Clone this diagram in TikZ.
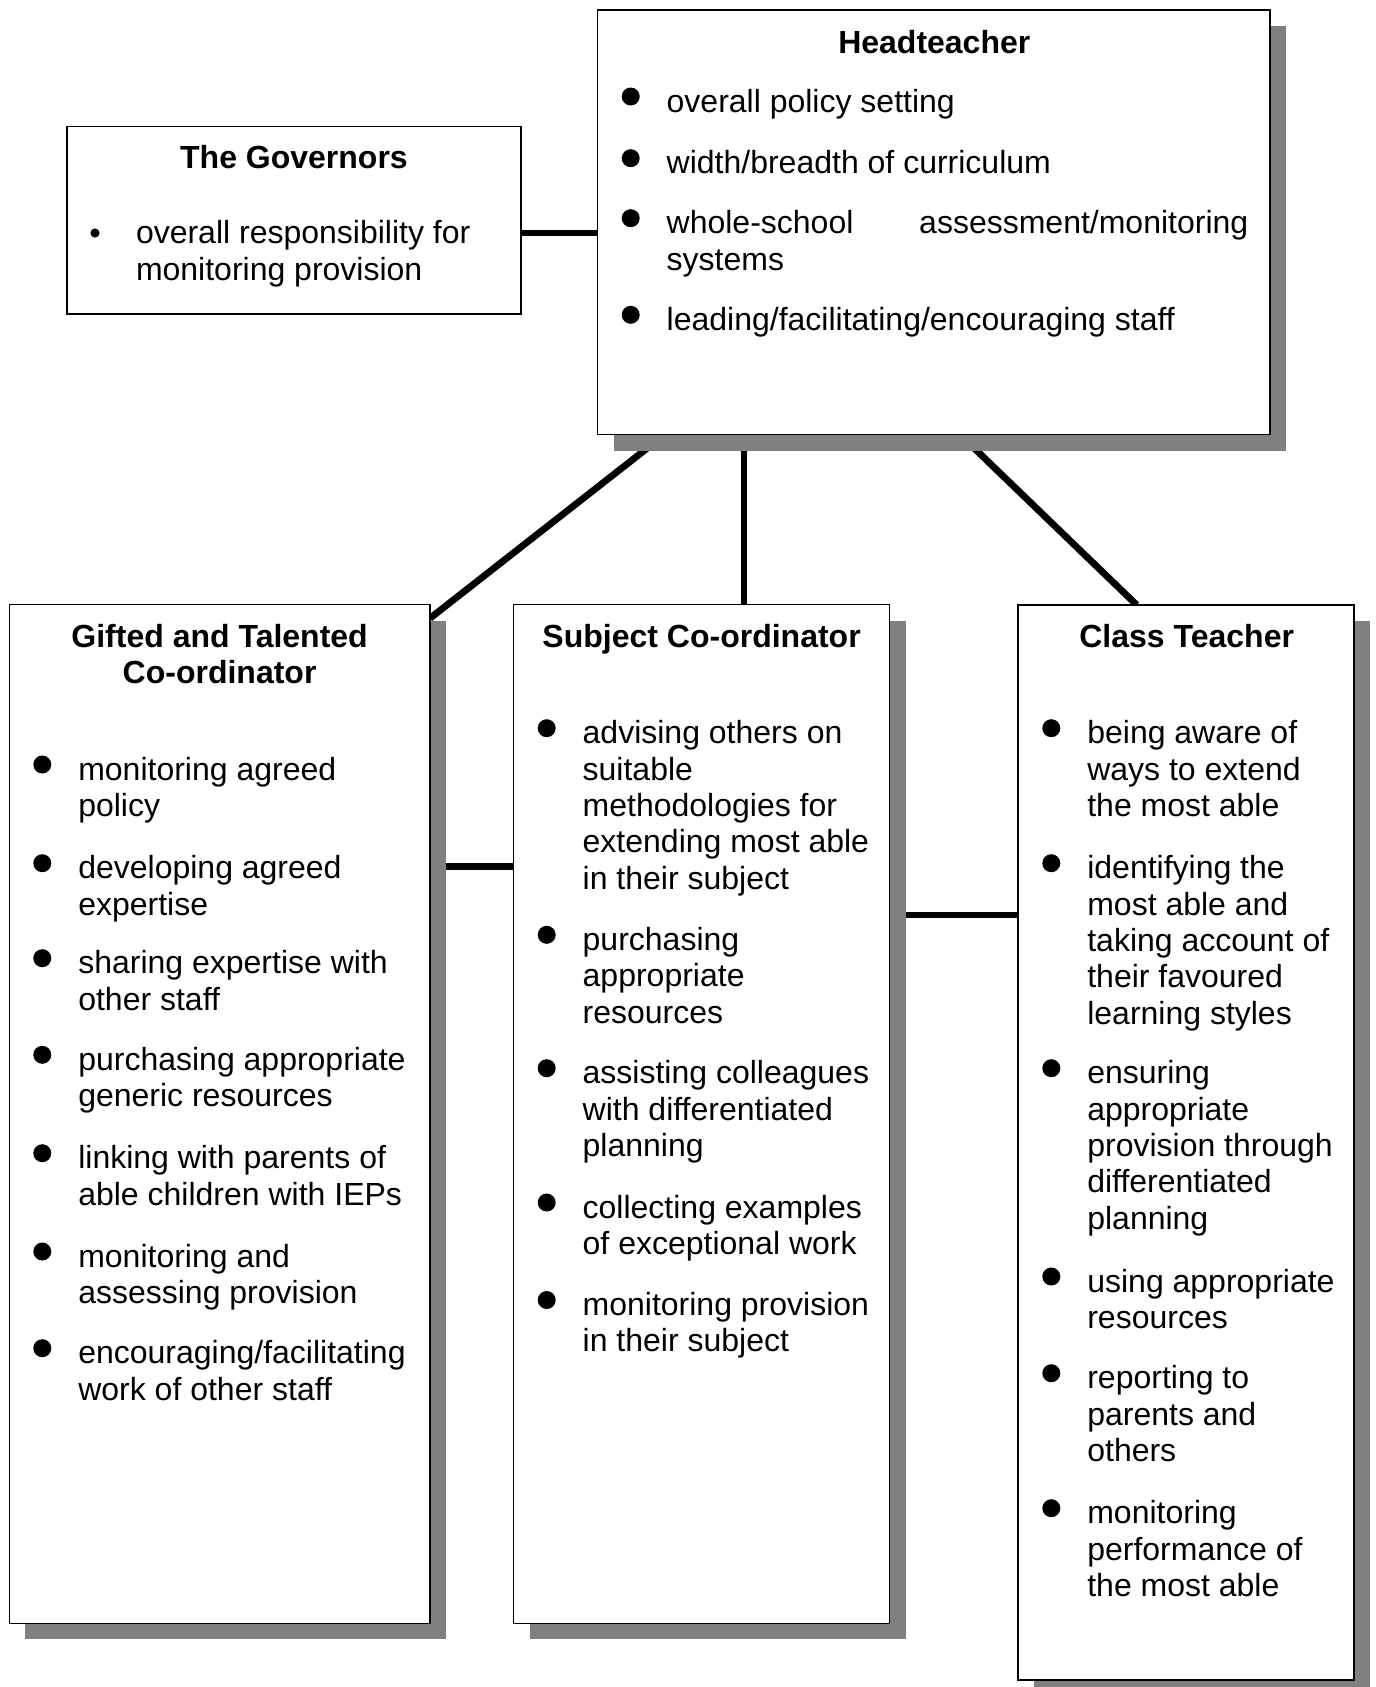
\documentclass[tikz,border=0pt]{standalone}
\usepackage{fontspec}
\setmainfont{Liberation Sans}
\usetikzlibrary{calc,shadows,backgrounds}
\newcommand\lft[1]{\vtop{\halign{##\hfil\cr#1\crcr}}}
\newcommand\ctr[1]{\vtop{\halign{\hfil##\hfil\cr#1\crcr}}}
\newcommand\bitem[4]{%
  \node[item] (#1) at (#2,#3) {\lft{#4}};
  \node[dot] (#1b) at ($(#1.base west)+(-36,-15.5)$) {};}
\begin{document}
\begin{tikzpicture}[x=0.5pt,y=-0.5pt,
  box/.style={draw=black, line width=0.8pt, fill=white, inner sep=0pt, outer sep=0pt},
  shbox/.style={box, drop shadow={shadow xshift=8pt, shadow yshift=-8pt, fill=black!50, opacity=1, draw=none}},
  conn/.style={draw=black, line width=3.4pt},
  item/.style={anchor=base west, inner sep=0pt, outer sep=0pt, yshift=-1pt, font=\fontsize{16pt}{18.2pt}\selectfont},
  ttl/.style={anchor=base, inner sep=0pt, outer sep=0pt, yshift=-1pt, font=\fontsize{16pt}{18pt}\selectfont\bfseries},
  dot/.style={circle, fill=black, draw=none, inner sep=0pt, minimum size=9pt},
  sdot/.style={circle, fill=black, draw=none, inner sep=0pt, minimum size=4.6pt}]
\useasboundingbox (0,0) rectangle (1376,1687);

% boxes
\node[box, minimum width=227pt, minimum height=93.75pt] (gov) at (294,220.25) {};
\node[shbox, minimum width=336.25pt, minimum height=212.25pt] (head) at (933.75,222.25) {};
\node[shbox, minimum width=210.35pt, minimum height=509.45pt] (gt) at (219.65,1113.95) {};
\node[shbox, minimum width=188pt, minimum height=509.45pt] (sub) at (701.5,1113.95) {};
\node[shbox, minimum width=168.15pt, minimum height=537.5pt] (cls) at (1185.85,1142.5) {};

% titles
\node[ttl] (govt) at (294,166.7) {The Governors};
\node[ttl] (headt) at (934.3,51.7) {Headteacher};
\node[ttl] (gtt) at (219.6,645) {\ctr{Gifted and Talented\cr Co-ordinator}};
\node[ttl] (subt) at (701.6,645) {Subject Co-ordinator};
\node[ttl] (clst) at (1186.7,645) {Class Teacher};

% governors
\node[sdot] (govb) at (95,233) {};
\node[item] (gov1) at (136,241.7) {\lft{overall responsibility for\cr monitoring provision}};

% headteacher
\bitem{h1}{666.7}{110}{overall policy setting}
\bitem{h2}{666.7}{171.7}{width/breadth of curriculum}
\node[item] (h3) at (666.7,231.7) {\lft{\hbox to 290.8pt{whole-school\hfil assessment/monitoring}\cr systems}};
\node[dot] (h3b) at ($(h3.base west)+(-36,-15.5)$) {};
\bitem{h4}{666.7}{328.3}{leading/facilitating/encouraging staff}

% gifted and talented
\bitem{g1}{78.3}{778}{monitoring agreed\cr policy}
\bitem{g2}{78.3}{876.7}{developing agreed\cr expertise}
\bitem{g3}{78.3}{971.7}{sharing expertise with\cr other staff}
\bitem{g4}{78.3}{1068.3}{purchasing appropriate\cr generic resources}
\bitem{g5}{78.3}{1166.7}{linking with parents of\cr able children with IEPs}
\bitem{g6}{78.3}{1265}{monitoring and\cr assessing provision}
\bitem{g7}{78.3}{1361.7}{encouraging/facilitating\cr work of other staff}

% subject co-ordinator
\bitem{s1}{582.7}{741.7}{advising others on\cr suitable\cr methodologies for\cr extending most able\cr in their subject}
\bitem{s2}{582.7}{948.3}{purchasing\cr appropriate\cr resources}
\bitem{s3}{582.7}{1081.7}{assisting colleagues\cr with differentiated\cr planning}
\bitem{s4}{582.7}{1216}{collecting examples\cr of exceptional work}
\bitem{s5}{582.7}{1313.5}{monitoring provision\cr in their subject}

% class teacher
\bitem{c1}{1087.3}{741.7}{being aware of\cr ways to extend\cr the most able}
\bitem{c2}{1087.3}{876.7}{identifying the\cr most able and\cr taking account of\cr their favoured\cr learning styles}
\bitem{c3}{1087.3}{1081.7}{ensuring\cr appropriate\cr provision through\cr differentiated\cr planning}
\bitem{c4}{1087.3}{1290}{using appropriate\cr resources}
\bitem{c5}{1087.3}{1386.7}{reporting to\cr parents and\cr others}
\bitem{c6}{1087.3}{1521.7}{monitoring\cr performance of\cr the most able}

% connectors (behind boxes and shadows)
\begin{scope}[on background layer]
\fill[white] (0,0) rectangle (1376,1687);
\path ($(gov.north east)!0.568!(gov.south east)$) coordinate (gc);
\draw[conn] (gc) -- (gc -| head.west);
\draw[conn] ($(head.south west)!0.1!(head.south east)$) -- ($(gt.north east)!0.0135!(gt.south east)$);
\path ($(sub.north west)!0.613!(sub.north east)$) coordinate (sm);
\draw[conn] (sm |- head.south) -- (sm);
\draw[conn] ($(head.south west)!0.539!(head.south east)$) -- ($(cls.north west)!0.354!(cls.north east)$);
\path ($(gt.north east)!0.2573!(gt.south east)$) coordinate (gs);
\draw[conn] (gs) -- (gs -| sub.west);
\path ($(sub.north east)!0.3047!(sub.south east)$) coordinate (sc);
\draw[conn] (sc) -- (sc -| cls.west);
\end{scope}
\end{tikzpicture}
\end{document}
